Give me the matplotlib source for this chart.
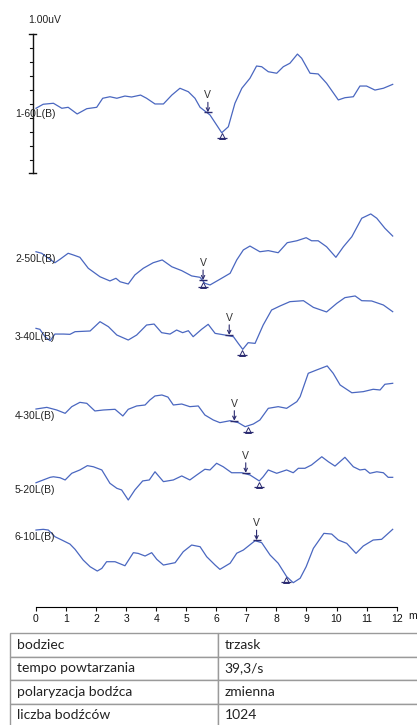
import numpy as np
import matplotlib
matplotlib.use("Agg")
import matplotlib.pyplot as plt

# Krzywe ABR: czas [ms] i amplituda [uV]
etykiety = ["1-60L(B)", "2-50L(B)", "3-40L(B)", "4-30L(B)", "5-20L(B)", "6-10L(B)"]

t1 = [0, 0.24, 0.58, 0.86, 1.07, 1.19, 1.37, 1.69, 2.02, 2.22, 2.46, 2.69, 2.96, 3.18,
      3.48, 3.68, 3.96, 4.24, 4.52, 4.79, 5.07, 5.29, 5.46, 5.79, 6.01, 6.18, 6.40, 6.62,
      6.85, 7.12, 7.34, 7.51, 7.73, 8.01, 8.23, 8.45, 8.70, 8.84, 9.12, 9.39, 9.67, 10.06,
      10.28, 10.56, 10.78, 11.00, 11.28, 11.56, 11.87]
a1 = [0.034, 0.063, 0.070, 0.034, 0.041, 0.022, -0.007, 0.031, 0.041, 0.106, 0.117, 0.106,
      0.122, 0.115, 0.129, 0.106, 0.065, 0.065, 0.129, 0.178, 0.153, 0.106, 0.041, -0.014,
      -0.086, -0.142, -0.099, 0.070, 0.178, 0.250, 0.338, 0.333, 0.297, 0.286, 0.333, 0.358,
      0.424, 0.394, 0.286, 0.281, 0.214, 0.094, 0.110, 0.117, 0.194, 0.194, 0.165, 0.178, 0.206]

t2 = [0, 0.19, 0.41, 0.63, 0.80, 1.07, 1.24, 1.46, 1.74, 2.13, 2.46, 2.66, 2.80, 3.07,
      3.29, 3.57, 3.90, 4.20, 4.52, 4.85, 5.18, 5.46, 5.62, 5.79, 6.12, 6.46, 6.68, 6.90,
      7.12, 7.45, 7.73, 8.06, 8.36, 8.68, 8.99, 9.17, 9.39, 9.67, 9.98, 10.23, 10.51, 10.84,
      11.14, 11.34, 11.61, 11.87]
a2 = [0.045, 0.034, -0.002, -0.034, -0.009, 0.034, 0.022, 0.005, -0.074, -0.135, -0.165,
      -0.146, -0.171, -0.187, -0.122, -0.074, -0.034, -0.014, -0.063, -0.091, -0.129, -0.139,
      -0.182, -0.194, -0.153, -0.110, -0.014, 0.058, 0.086, 0.045, 0.053, 0.038, 0.110, 0.124,
      0.146, 0.124, 0.124, 0.081, 0.005, 0.081, 0.153, 0.286, 0.317, 0.286, 0.214, 0.158]

t3 = [0, 0.13, 0.30, 0.47, 0.63, 0.91, 1.13, 1.30, 1.80, 2.13, 2.41, 2.69, 3.07, 3.35,
      3.68, 3.93, 4.18, 4.46, 4.68, 4.88, 5.07, 5.23, 5.51, 5.73, 5.96, 6.29, 6.57, 6.73,
      6.88, 7.06, 7.29, 7.56, 7.84, 8.12, 8.45, 8.90, 9.23, 9.67, 10.01, 10.28, 10.62, 10.84,
      11.17, 11.56, 11.87]
a3 = [0.055, 0.048, -0.005, -0.034, 0.014, 0.014, 0.012, 0.031, 0.036, 0.103, 0.067, 0.007,
      -0.029, 0.007, 0.079, 0.086, 0.024, 0.014, 0.043, 0.024, 0.038, -0.005, 0.048, 0.084,
      0.019, 0.007, -0.005, -0.053, -0.096, -0.048, -0.053, 0.079, 0.187, 0.216, 0.247, 0.254,
      0.206, 0.173, 0.235, 0.276, 0.288, 0.254, 0.252, 0.223, 0.175]

t4 = [0, 0.36, 0.69, 0.97, 1.19, 1.46, 1.69, 1.96, 2.24, 2.63, 2.89, 3.07, 3.35, 3.63,
      3.79, 3.96, 4.19, 4.39, 4.57, 4.85, 5.12, 5.40, 5.62, 5.90, 6.12, 6.46, 6.73, 6.96,
      7.23, 7.45, 7.73, 8.06, 8.34, 8.68, 8.79, 9.06, 9.34, 9.69, 9.89, 10.12, 10.51, 10.89,
      11.22, 11.45, 11.61, 11.87]
a4 = [0.043, 0.055, 0.036, 0.012, 0.060, 0.091, 0.084, 0.029, 0.036, 0.041, -0.007, 0.041,
      0.065, 0.072, 0.108, 0.137, 0.144, 0.129, 0.072, 0.079, 0.060, 0.065, 0.000, -0.036,
      -0.055, -0.041, -0.055, -0.084, -0.065, -0.036, 0.048, 0.060, 0.048, 0.096, 0.132,
      0.300, 0.324, 0.353, 0.300, 0.216, 0.160, 0.168, 0.185, 0.180, 0.221, 0.228]

t5 = [0, 0.24, 0.47, 0.58, 0.80, 0.97, 1.19, 1.46, 1.71, 1.91, 2.19, 2.46, 2.69, 2.85,
      3.07, 3.29, 3.55, 3.77, 3.96, 4.24, 4.57, 4.85, 5.12, 5.35, 5.62, 5.79, 6.01, 6.23,
      6.51, 6.85, 7.12, 7.43, 7.56, 7.73, 8.01, 8.34, 8.56, 8.73, 8.95, 9.17, 9.51, 9.73,
      9.95, 10.28, 10.56, 10.78, 10.95, 11.11, 11.34, 11.56, 11.72, 11.87]
a5 = [0.045, 0.065, 0.084, 0.088, 0.081, 0.065, 0.113, 0.137, 0.168, 0.160, 0.137, 0.041,
      0.005, -0.007, -0.079, -0.007, 0.058, 0.065, 0.124, 0.053, 0.065, 0.094, 0.065, 0.101,
      0.142, 0.137, 0.185, 0.160, 0.117, 0.117, 0.101, 0.058, 0.088, 0.137, 0.113, 0.137,
      0.117, 0.149, 0.149, 0.173, 0.232, 0.196, 0.165, 0.228, 0.160, 0.137, 0.142, 0.113,
      0.124, 0.117, 0.084, 0.084]

t6 = [0, 0.24, 0.41, 0.63, 0.86, 1.13, 1.30, 1.57, 1.80, 2.04, 2.19, 2.35, 2.63, 2.96,
      3.24, 3.40, 3.63, 3.85, 4.02, 4.24, 4.63, 4.90, 5.18, 5.46, 5.68, 5.96, 6.12, 6.46,
      6.68, 6.90, 7.29, 7.51, 7.79, 8.06, 8.34, 8.56, 8.79, 8.99, 9.23, 9.58, 9.84, 10.06,
      10.34, 10.65, 10.89, 11.22, 11.50, 11.87]
a6 = [0.043, 0.048, 0.043, -0.005, -0.029, -0.058, -0.096, -0.173, -0.221, -0.252, -0.233,
      -0.185, -0.185, -0.214, -0.120, -0.125, -0.144, -0.120, -0.168, -0.209, -0.192, -0.113,
      -0.065, -0.077, -0.149, -0.209, -0.240, -0.196, -0.124, -0.101, -0.034, -0.048, -0.137,
      -0.196, -0.292, -0.336, -0.304, -0.221, -0.089, 0.019, 0.014, -0.029, -0.053, -0.125,
      -0.072, -0.029, -0.024, 0.048]

czasy = [t1, t2, t3, t4, t5, t6]
amplitudy = [a1, a2, a3, a4, a5, a6]

# latencje fali V (strzałka) i minimum (trójkąt)
lat_v = [5.72, 5.56, 6.43, 6.60, 6.98, 7.34]
lat_min = [6.19, 5.56, 6.86, 7.04, 7.42, 8.32]

ticki_ms = list(range(13))
tabela = [["bodziec", "trzask"],
          ["tempo powtarzania", "39,3/s"],
          ["polaryzacja bodźca", "zmienna"],
          ["liczba bodźców", "1024"]]

# układ w pikselach
W, H = 417, 725
PX_MS = 30.05          # pikseli na 1 ms
X0 = 36                # piksel dla 0 ms
PX_UV = 139            # pikseli na 1 uV
linie_bazowe = [113, 258, 336, 415, 489, 536]
KOLOR_KRZYWEJ = "#4a67c0"
KOLOR_ZNACZNIKA = "#2b2b70"
FONT = ["Liberation Sans", "DejaVu Sans"]


def px_x(px):
    return (px - X0) / PX_MS


def px_y(py):
    return -py / PX_UV


fig = plt.figure(figsize=(W / 100, H / 100), dpi=100)
ax = fig.add_axes([0, 0, 1, 1])
ax.set_xlim(px_x(0), px_x(W))
ax.set_ylim(px_y(H), px_y(0))

for t, a, baza, et, lv, lm in zip(czasy, amplitudy, linie_bazowe, etykiety, lat_v, lat_min):
    y = np.array(a) + px_y(baza)
    ax.plot(t, y, color=KOLOR_KRZYWEJ, lw=0.9, solid_joinstyle="round")
    ax.text(px_x(15), px_y(baza + 1), et, ha="left", va="center", fontsize=7.5,
            family=FONT, color="#222222")

    # znacznik fali V
    yv = np.interp(lv, t, y) + 1 / PX_UV
    ax.annotate("", xy=(lv, yv), xytext=(lv, yv + 10 / PX_UV),
                arrowprops=dict(arrowstyle="->", lw=0.8, color=KOLOR_ZNACZNIKA,
                                mutation_scale=6, shrinkA=0, shrinkB=0))
    ax.plot([lv], [yv], marker="_", ms=6, mew=1.0, color=KOLOR_ZNACZNIKA)
    ax.text(lv, yv + 17 / PX_UV, "V", ha="center", va="center", fontsize=7.5,
            family=FONT, color="#333333")

    # znacznik minimum
    ym = np.interp(lm, t, y) - 4 / PX_UV
    ax.plot([lm], [ym], marker="^", ms=4.5, mfc="none", mew=0.7, color=KOLOR_ZNACZNIKA)
    ax.plot([lm], [ym - 2 / PX_UV], marker="_", ms=6.5, mew=0.9, color=KOLOR_ZNACZNIKA)

# skala amplitudy 1 uV
xs = px_x(33)
ax.plot([xs, xs], [px_y(34.5), px_y(34.5) - 1.0], color="#111111", lw=1.0)
for k in range(11):
    yk = px_y(34.5) - k * 0.1
    if k in (0, 10):
        ax.plot([px_x(29.5), px_x(36.5)], [yk, yk], color="#111111", lw=1.0)
    else:
        ax.plot([px_x(30.5), xs], [yk, yk], color="#111111", lw=0.8)
ax.text(px_x(28.5), px_y(20), "1.00uV", ha="left", va="center", fontsize=7.5,
        family=FONT, color="#222222")

# oś czasu
for s in ["left", "right", "top"]:
    ax.spines[s].set_visible(False)
ax.spines["bottom"].set_position(("data", px_y(607.5)))
ax.spines["bottom"].set_bounds(0, 12)
ax.spines["bottom"].set_linewidth(0.8)
ax.set_xticks(ticki_ms)
ax.set_xticklabels([str(v) for v in ticki_ms], family=FONT)
ax.tick_params(axis="x", direction="out", length=3, width=0.8, labelsize=7.5, pad=1.5,
               colors="#111111")
ax.set_yticks([])
ax.text(12.4, px_y(616.5), "ms", ha="left", va="center", fontsize=7.5,
        family=FONT, color="#111111")

# tabela parametrów
tab = ax.table(cellText=tabela, cellLoc="left", colWidths=[208, 202],
               bbox=[10 / W, -2 / H, 410 / W, 94 / H])
tab.auto_set_font_size(False)
for (r, c), cell in tab.get_celld().items():
    cell.set_edgecolor("#9a9a9a")
    cell.set_linewidth(1.0)
    cell.PAD = 0.034
    cell.get_text().set_fontsize(10)
    cell.get_text().set_fontfamily("Lato")
    cell.get_text().set_color("#222222")

fig.savefig("out.png", dpi=100)
